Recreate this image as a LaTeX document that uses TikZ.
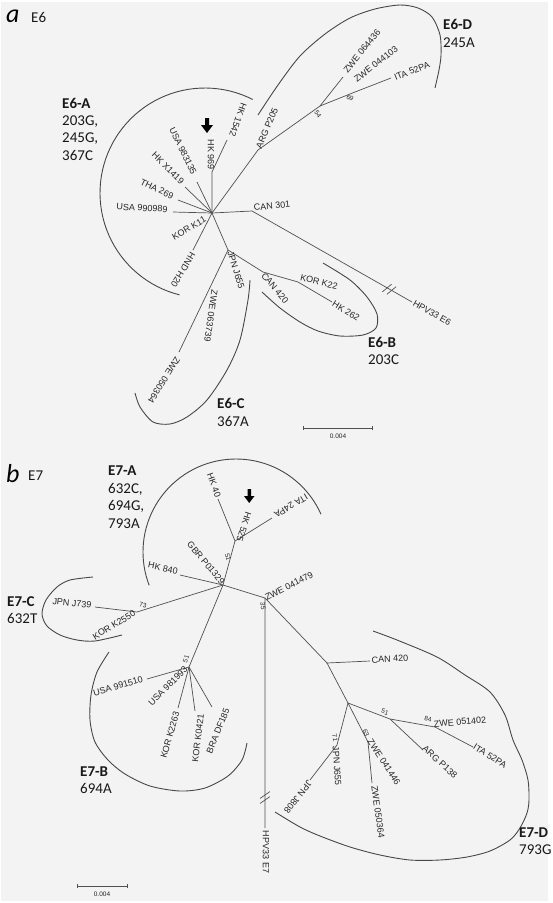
\documentclass[tikz,border=0pt]{standalone}
\usepackage{fontspec}
\newfontfamily\labfont{Liberation Sans}
\newfontfamily\cladefont{Carlito}
\usetikzlibrary{calc,arrows.meta}
\definecolor{bgcol}{RGB}{243,243,243}
\definecolor{brcol}{RGB}{80,80,80}

\begin{document}
\begin{tikzpicture}[x=1pt, y=-1pt,
  br/.style={draw=brcol, line width=0.7pt},
  clade/.style={draw=black!72, line width=0.9pt},
  lbl/.style={font=\labfont\fontsize{9}{9}\selectfont, text=black!85, inner sep=0pt},
  boot/.style={font=\labfont\fontsize{6.5}{6.5}\selectfont, text=black!85, inner sep=0pt},
  ctitle/.style={font=\cladefont\bfseries\fontsize{15}{15}\selectfont, text=black!90, anchor=base west, inner sep=0pt},
  ctext/.style={font=\cladefont\fontsize{15}{15}\selectfont, text=black!90, anchor=base west, inner sep=0pt},
  panel/.style={font=\cladefont\itshape\fontsize{26}{26}\selectfont, anchor=base west, inner sep=0pt},
]
\useasboundingbox (0,0) rectangle (553,903);
\fill[white] (0,0) rectangle (553,903);
\fill[bgcol] (1,2) rectangle (548,901);

%% panel a: E6
\coordinate (c6) at (212,213);
\coordinate (n969) at (212,172);
\coordinate (t1542) at (227,140);
\coordinate (t983135) at (197,182);
\coordinate (tx1419) at (185,187);
\coordinate (t269) at (178,200);
\coordinate (t990989) at (173,212);
\coordinate (th20) at (193,250);
\coordinate (j655) at (228,250);
\coordinate (t050364) at (179,352);
\coordinate (can420a) at (263,272);
\coordinate (k22) at (298,282);
\coordinate (t262) at (332,302);
\coordinate (can301) at (252,211);
\coordinate (hpv6) at (412,302);
\coordinate (p205) at (258,150);
\coordinate (n54) at (320,106);
\coordinate (t064436) at (343,77);
\coordinate (n69) at (355,92);
\coordinate (t52pa) at (391,78);

\draw[br] (c6) -- (n969) -- (t1542);
\draw[br] (c6) -- (t983135);
\draw[br] (c6) -- (tx1419);
\draw[br] (c6) -- (t269);
\draw[br] (c6) -- (t990989);
\draw[br] (c6) -- (th20);
\draw[br] (c6) -- (j655) -- (t050364);
\draw[br] (j655) -- (can420a) -- (k22) -- (t262);
\draw[br] (c6) -- (can301) -- (hpv6);
\draw[br] (c6) -- (p205) -- (n54) -- (t064436);
\draw[br] (n54) -- (n69) -- (t52pa);
% break on the outgroup branch
\draw[br] (382.4,291.8) -- (391.6,284.2);
\draw[br] (386.9,294.3) -- (396.1,286.7);

\node[lbl, rotate=-90] (l969) at (211,155) {HK 969};
\node[lbl, rotate=-110] (l1542) at (238,120) {HK 1542};
\node[lbl, rotate=-64] (l983135) at (183,151) {USA 983135};
\node[lbl, rotate=-45] (lx1419) at (168,168) {HK X1419};
\node[lbl, rotate=-26] (l269) at (157,189) {THA 269};
\node[lbl, rotate=-3] (l990989) at (142,208) {USA 990989};
\node[lbl, rotate=30] (lk11) at (189,228) {KOR K11};
\node[lbl, rotate=-121] (lh20) at (183,270) {HND H20};
\node[lbl, rotate=-73] (lj655a) at (236,270) {JPN J655};
\node[lbl, rotate=-98] (l063739) at (211,316) {ZWE 063739};
\node[lbl, rotate=-122] (l050364a) at (164,380) {ZWE 050364};
\node[lbl, rotate=-50] (l420a) at (275,288) {CAN 420};
\node[lbl, rotate=-14] (lk22) at (319,282) {KOR K22};
\node[lbl, rotate=-32] (l262) at (346,311) {HK 262};
\node[lbl, rotate=6] (l301) at (272,206) {CAN 301};
\node[lbl, rotate=-30] (lhpv6) at (432,313) {HPV33 E6};
\node[lbl, rotate=67] (lp205) at (267,128) {ARG P205};
\node[boot, rotate=-55] (b54) at (318,114) {54};
\node[lbl, rotate=51] (l064436) at (362,51) {ZWE 064436};
\node[lbl, rotate=38] (l044103) at (376,64) {ZWE 044103};
\node[boot, rotate=-30] (b69) at (350,98) {69};
\node[lbl, rotate=22] (l52pa) at (412,71) {ITA 52PA};

% clades
\draw[clade] plot[domain=63:256, samples=60] ({205+105*cos(\x)}, {193-105*sin(\x)});
\draw[clade] plot[smooth] coordinates {(258,115) (278,85) (300,56) (325,34) (350,18) (375,9) (400,5) (418,8) (432,17) (440,35) (441,55) (439,70) (435,88)};
\draw[clade] plot[smooth] coordinates {(323,263) (350,280) (367,297) (377,314) (376,328) (363,335) (340,336) (318,331) (300,322) (280,308) (262,292)};
\draw[clade] plot[smooth] coordinates {(250,280) (248,300) (240,340) (227,370) (207,400) (187,417) (170,424) (153,422) (140,407) (135,393)};

\node[panel] (pa) at (6,22) {a};
\node[ctext] (ga) at (31,22) {E6};
\node[ctitle] (e6a) at (62,108) {E6-A};
\node[ctext] (e6a1) at (62,125) {203G,};
\node[ctext] (e6a2) at (62,142) {245G,};
\node[ctext] (e6a3) at (62,160) {367C};
\node[ctitle] (e6d) at (443,29) {E6-D};
\node[ctext] (e6d1) at (443,47) {245A};
\node[ctitle] (e6b) at (368,347) {E6-B};
\node[ctext] (e6b1) at (368,364) {203C};
\node[ctitle] (e6c) at (217,408) {E6-C};
\node[ctext] (e6c1) at (217,426) {367A};

% arrow and scale
\fill[black] (205,118) -- (209,118) -- (209,125) -- (213,125) -- (207,133) -- (201,125) -- (205,125) -- cycle;
\coordinate (sa1) at (303,428);
\coordinate (sa2) at (373,428);
\draw[br, {Bar[width=4pt]}-{Bar[width=4pt]}] (sa1) -- (sa2);
\node[boot] (sca) at (338,436) {0.004};

%% panel b: E7
\coordinate (c7) at (223,585);
\coordinate (n51a) at (235,541);
\coordinate (t40) at (218,499);
\coordinate (t24pa) at (272,518);
\coordinate (t840) at (180,575);
\coordinate (n73) at (137,612);
\coordinate (t739) at (95,607);
\coordinate (n51b) at (189,667);
\coordinate (t991510) at (147,679);
\coordinate (tk2263) at (178,708);
\coordinate (tk0421) at (195,711);
\coordinate (tdf185) at (212,707);
\coordinate (z479) at (265,598);
\coordinate (hpv7) at (265,828);
\coordinate (ncan) at (327,663);
\coordinate (t420b) at (370,661);
\coordinate (np) at (348,703);
\coordinate (n51c) at (390,719);
\coordinate (n84) at (435,727);
\coordinate (t52pab) at (473,747);
\coordinate (tp138) at (423,750);
\coordinate (n63) at (368,742);
\coordinate (t050364b) at (372,783);
\coordinate (n71) at (337,745);
\coordinate (tj808) at (310,780);

\draw[br] (c7) -- (n51a) -- (t40);
\draw[br] (n51a) -- (t24pa);
\draw[br] (c7) -- (t840);
\draw[br] (c7) -- (n73) -- (t739);
\draw[br] (c7) -- (n51b) -- (t991510);
\draw[br] (n51b) -- (tk2263);
\draw[br] (n51b) -- (tk0421);
\draw[br] (n51b) -- (tdf185);
\draw[br] (c7) -- (z479) -- (hpv7);
\draw[br] (z479) -- (ncan) -- (t420b);
\draw[br] (ncan) -- (np) -- (n51c) -- (n84) -- (t52pab);
\draw[br] (n51c) -- (tp138);
\draw[br] (np) -- (n63) -- (t050364b);
\draw[br] (np) -- (n71) -- (tj808);
% break on the outgroup branch
\draw[br] (260.1,798.4) -- (269.9,791.6);
\draw[br] (260.1,803.4) -- (269.9,796.6);

\node[lbl, rotate=-70] (l40) at (214,485) {HK 40};
\node[lbl, rotate=-108] (l525) at (244,527) {HK 525};
\node[lbl, rotate=-149] (l24pa) at (291,506) {ITA 24PA};
\node[boot, rotate=-75] (b51a) at (228,557) {51};
\node[lbl, rotate=-50] (lp01329) at (206,563) {GBR P01329};
\node[lbl, rotate=-12] (l840) at (163,568) {HK 840};
\node[boot, rotate=-10] (b73) at (143,605) {73};
\node[lbl, rotate=-6] (l739) at (72,603) {JPN J739};
\node[lbl, rotate=31] (lk2550) at (114,625) {KOR K2550};
\node[boot, rotate=70] (b51b) at (186,659) {51};
\node[lbl, rotate=16] (l991510) at (118,686) {USA 991510};
\node[lbl, rotate=45] (l981993) at (168,686) {USA 981993};
\node[lbl, rotate=74] (lk2263) at (170,735) {KOR K2263};
\node[lbl, rotate=83] (lk0421) at (198,738) {KOR K0421};
\node[lbl, rotate=68] (ldf185) at (218,731) {BRA DF185};
\node[lbl, rotate=27] (l041479) at (289,586) {ZWE 041479};
\node[boot, rotate=-85] (b35) at (263,606) {35};
\node[lbl, rotate=-90] (lhpv7) at (266,852) {HPV33 E7};
\node[lbl, rotate=3] (l420b) at (390,659) {CAN 420};
\node[boot, rotate=-20] (b51c) at (385,712) {51};
\node[boot, rotate=-10] (b84) at (428,719) {84};
\node[lbl, rotate=5] (l051402) at (460,722) {ZWE 051402};
\node[lbl, rotate=-32] (l52pab) at (490,756) {ITA 52PA};
\node[lbl, rotate=-42] (lp138) at (440,762) {ARG P138};
\node[boot, rotate=-70] (b63) at (366,733) {63};
\node[lbl, rotate=-57] (l041446) at (384,762) {ZWE 041446};
\node[lbl, rotate=-82] (l050364b) at (378,812) {ZWE 050364};
\node[boot, rotate=-80] (b71) at (335,738) {71};
\node[lbl, rotate=-86] (lj655b) at (337,766) {JPN J655};
\node[lbl, rotate=-128] (lj808) at (298,797) {JPN J808};

% clades
\draw[clade] plot[domain=24:201, samples=60] ({236+93*cos(\x)}, {552-93*sin(\x)});
\draw[clade] plot[smooth] coordinates {(93,577) (70,580) (57,587) (46,600) (42,614) (47,626) (60,635) (77,640) (95,641) (122,635)};
\draw[clade] plot[smooth] coordinates {(109,652) (97,672) (91,695) (90,720) (95,742) (108,760) (125,774) (150,786) (180,791) (205,788) (228,776) (242,760) (247,743)};
\draw[clade] plot[smooth] coordinates {(373,631) (397,640) (437,657) (465,675) (490,692) (505,715) (513,740) (522,760) (528,780) (529,800) (527,813) (520,828) (510,840) (490,851) (467,857) (440,860) (410,860) (380,855) (350,847) (320,836) (300,827) (275,812)};

\node[panel] (pb) at (6,482) {b};
\node[ctext] (gb) at (28,480) {E7};
\node[ctitle] (e7a) at (108,475) {E7-A};
\node[ctext] (e7a1) at (108,493) {632C,};
\node[ctext] (e7a2) at (108,510) {694G,};
\node[ctext] (e7a3) at (108,528) {793A};
\node[ctitle] (e7c) at (7,606) {E7-C};
\node[ctext] (e7c1) at (7,623) {632T};
\node[ctitle] (e7b) at (80,776) {E7-B};
\node[ctext] (e7b1) at (80,793) {694A};
\node[ctitle] (e7d) at (519,837) {E7-D};
\node[ctext] (e7d1) at (519,854) {793G};

% arrow and scale
\fill[black] (247.5,489) -- (251,489) -- (251,496) -- (254.5,496) -- (249.2,503) -- (244,496) -- (247.5,496) -- cycle;
\coordinate (sb1) at (77,886);
\coordinate (sb2) at (128,886);
\draw[br, {Bar[width=4pt]}-{Bar[width=4pt]}] (sb1) -- (sb2);
\node[boot] (scb) at (102,894) {0.004};

\end{tikzpicture}
\end{document}
